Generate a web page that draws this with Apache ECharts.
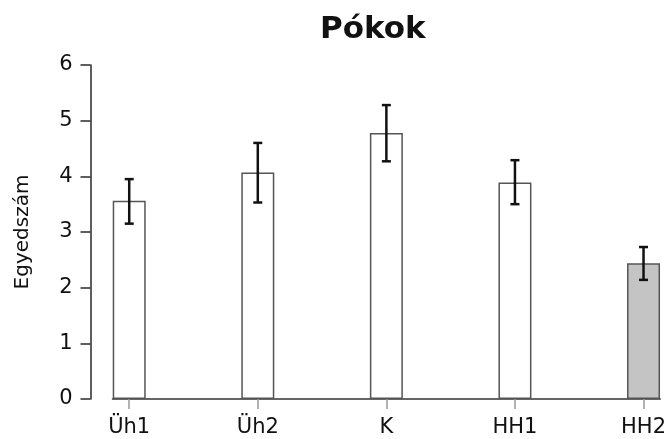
<!DOCTYPE html>
<html>
<head>
<meta charset="utf-8">
<script src="https://cdn.jsdelivr.net/npm/echarts@6/dist/echarts.min.js"></script>
<style>
  html, body { margin: 0; padding: 0; background: #ffffff; }
  #chart { width: 669px; height: 439px; }
</style>
</head>
<body>
<div id="chart"></div>
<script>
// Mean number of individuals per site, with error bars
const categories = ['Üh1', 'Üh2', 'K', 'HH1', 'HH2'];
const means = [3.56, 4.07, 4.78, 3.89, 2.44];
const lower = [3.15, 3.53, 4.27, 3.50, 2.14];
const upper = [3.95, 4.60, 5.28, 4.29, 2.73];
const yTicks = [0, 1, 2, 3, 4, 5, 6];
const shadedCategory = 'HH2';

const FONT = 'DejaVu Sans';
const positions = categories.map((_, i) => i);

const chart = echarts.init(document.getElementById('chart'), null, { renderer: 'canvas' });

chart.setOption({
  backgroundColor: '#ffffff',
  animation: false,
  title: {
    text: 'Pókok',
    left: 315,
    top: 9,
    textStyle: { fontFamily: FONT, fontWeight: 'bold', fontSize: 31, color: '#111111' }
  },
  grid: { left: 112.5, right: 8, top: 65, bottom: 40, containLabel: false },
  xAxis: {
    type: 'value',
    min: -0.13,
    max: 4.13,
    splitLine: { show: false },
    axisLine: { show: true, onZero: false, lineStyle: { color: '#333333', width: 1.5 } },
    axisTick: {
      show: true, length: 10, customValues: positions,
      lineStyle: { color: '#999999', width: 1.5 }
    },
    axisLabel: {
      customValues: positions,
      margin: 18,
      fontFamily: FONT, fontSize: 21, color: '#111111',
      formatter: v => categories[Math.round(v)]
    }
  },
  yAxis: {
    type: 'value',
    min: yTicks[0],
    max: yTicks[yTicks.length - 1],
    interval: 1,
    offset: 22,
    name: 'Egyedszám',
    nameLocation: 'middle',
    nameGap: 58,
    nameTextStyle: { fontFamily: FONT, fontSize: 20, color: '#111111' },
    splitLine: { show: false },
    axisLine: { show: true, onZero: false, lineStyle: { color: '#2a2a2a', width: 1.5 } },
    axisTick: { show: true, length: 10, lineStyle: { color: '#2a2a2a', width: 1.5 } },
    axisLabel: { margin: 18, fontFamily: FONT, fontSize: 21, color: '#111111' }
  },
  series: [
    {
      type: 'bar',
      barWidth: 33,
      data: means.map((m, i) => [positions[i], m]),
      itemStyle: {
        color: p => categories[p.dataIndex] === shadedCategory ? '#c4c4c4' : '#ffffff',
        borderColor: '#555555',
        borderWidth: 1.5
      },
      z: 2
    },
    {
      type: 'custom',
      data: positions.map((x, i) => [x, lower[i], upper[i]]),
      encode: { x: 0, y: [1, 2] },
      z: 3,
      renderItem: (params, api) => {
        const lo = api.coord([api.value(0), api.value(1)]);
        const hi = api.coord([api.value(0), api.value(2)]);
        const half = 4.5;
        const style = { stroke: '#111111', lineWidth: 2.5 };
        return {
          type: 'group',
          children: [
            { type: 'line', shape: { x1: hi[0], y1: hi[1], x2: lo[0], y2: lo[1] }, style },
            { type: 'line', shape: { x1: hi[0] - half, y1: hi[1], x2: hi[0] + half, y2: hi[1] }, style },
            { type: 'line', shape: { x1: lo[0] - half, y1: lo[1], x2: lo[0] + half, y2: lo[1] }, style }
          ]
        };
      }
    }
  ]
});
</script>
</body>
</html>
